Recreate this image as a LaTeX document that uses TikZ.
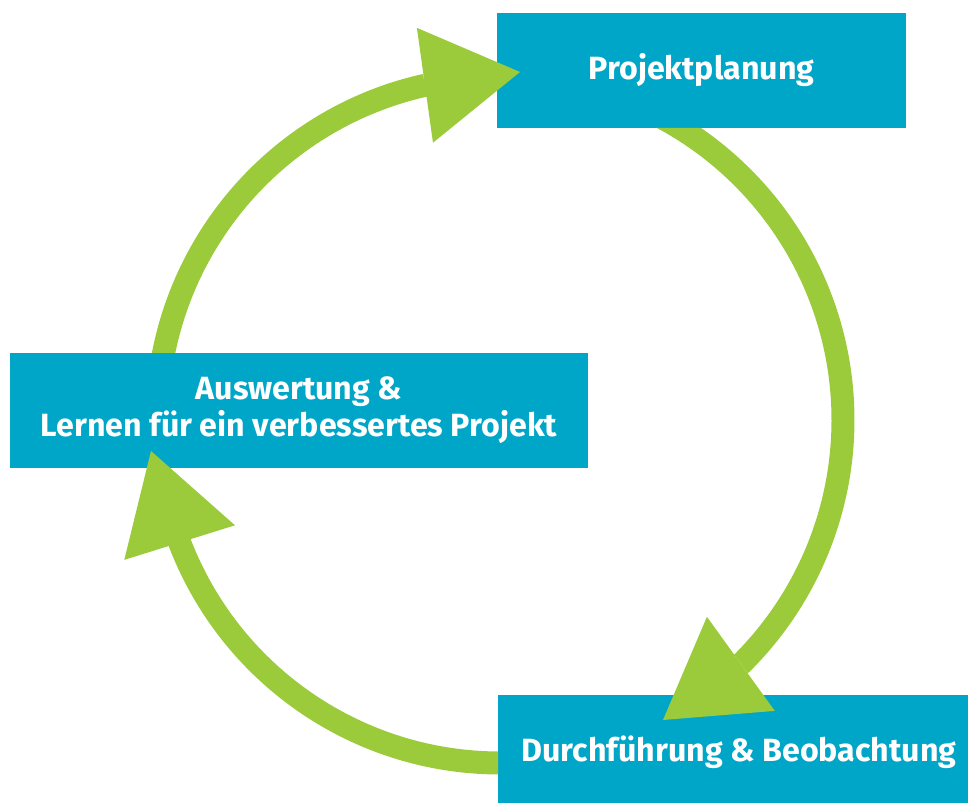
\documentclass[tikz,border=0pt]{standalone}
\usepackage{fontspec}
\setmainfont{Fira Sans}
\usetikzlibrary{arrows.meta}

\definecolor{phaseblue}{HTML}{00A6C8}
\definecolor{cyclegreen}{HTML}{9BCB3B}

\begin{document}
\begin{tikzpicture}[
  x=0.02cm, y=0.02cm,
  box/.style={rectangle, fill=phaseblue, text=white, font=\bfseries\fontsize{18.3}{21}\selectfont, align=center, inner sep=0pt, outer sep=0pt, minimum height=2.3cm},
  cyclearrow/.style={draw=cyclegreen, line width=0.46cm, -{Triangle[length=1.92cm, width=2.32cm, line width=0pt]}}
]
  \useasboundingbox (0,0) rectangle (968,803);
  \clip (0,0) rectangle (968,803);

  % Phases
  \node[box, minimum width=8.18cm] (plan) at (701.5,732.5) {Projektplanung};
  \node[box, minimum width=9.64cm] (exec) at (739,50.5) {Durchführung \& Beobachtung};
  \node[box, minimum width=11.56cm] (eval) at (299,392.5) {Auswertung \&\\Lernen für ein verbessertes Projekt};

  % Circle of the cycle and the arrow tips
  \coordinate (c) at (500,383);
  \coordinate (tipplan) at (520,731);
  \coordinate (tipexec) at (663,83);
  \coordinate (tipeval) at (151,352);

  % Arcs start hidden under their box
  \begin{scope}[even odd rule]
    \clip (0,0) rectangle (968,803) (eval.south west) rectangle (eval.north east);
    \draw[cyclearrow] ([shift={(175:343)}]c) arc[start angle=175, end angle=102.6, radius=343] -- (tipplan);
  \end{scope}
  \begin{scope}[even odd rule]
    \clip (0,0) rectangle (968,803) (plan.south west) rectangle (plan.north east);
    \draw[cyclearrow] ([shift={(62:343)}]c) arc[start angle=62, end angle=-45.1, radius=343] -- (tipexec);
  \end{scope}
  \begin{scope}[even odd rule]
    \clip (0,0) rectangle (968,803) (exec.south west) rectangle (exec.north east);
    \draw[cyclearrow] ([shift={(272:343)}]c) arc[start angle=272, end angle=200.8, radius=343] -- (tipeval);
  \end{scope}
\end{tikzpicture}
\end{document}
